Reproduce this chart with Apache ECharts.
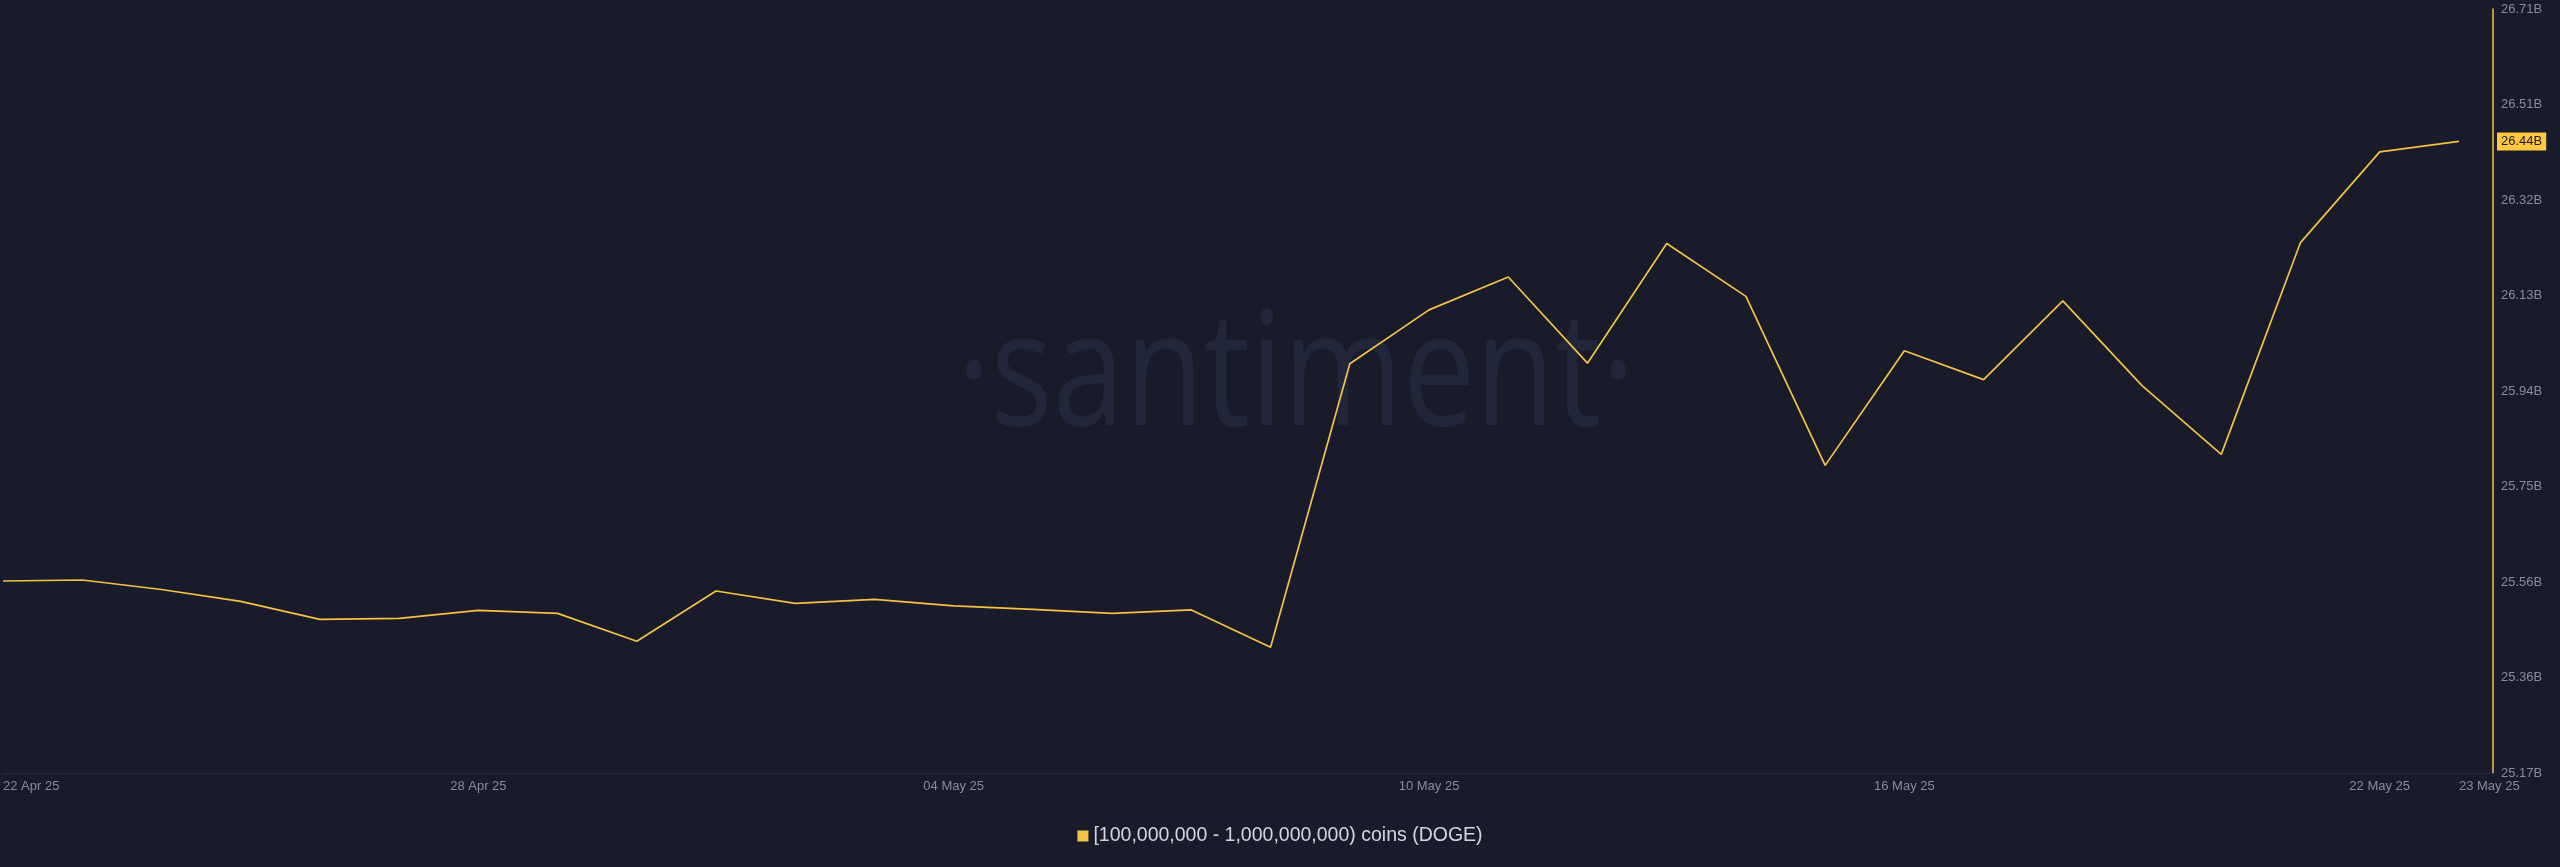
<!DOCTYPE html>
<html>
<head>
<meta charset="utf-8">
<script src="https://cdn.jsdelivr.net/npm/echarts@6/dist/echarts.min.js"></script>
<style>
  html, body { margin: 0; padding: 0; background: #191b2a; }
  #chart { width: 2560px; height: 867px; }
</style>
</head>
<body>
<div id="chart"></div>
<script>
// ---- data ----
const dates = [
  '2025-04-22','2025-04-23','2025-04-24','2025-04-25','2025-04-26','2025-04-27','2025-04-28','2025-04-29',
  '2025-04-30','2025-05-01','2025-05-02','2025-05-03','2025-05-04','2025-05-05','2025-05-06','2025-05-07',
  '2025-05-08','2025-05-09','2025-05-10','2025-05-11','2025-05-12','2025-05-13','2025-05-14','2025-05-15',
  '2025-05-16','2025-05-17','2025-05-18','2025-05-19','2025-05-20','2025-05-21','2025-05-22','2025-05-23'
];
// billions of DOGE held by addresses with [100M - 1B) coins
const holdings = [
  25.558, 25.560, 25.541, 25.517, 25.481, 25.483, 25.499, 25.493,
  25.437, 25.538, 25.513, 25.521, 25.508, 25.501, 25.493, 25.500,
  25.425, 25.994, 26.102, 26.168, 25.995, 26.235, 26.129, 25.790,
  26.020, 25.962, 26.120, 25.950, 25.812, 26.237, 26.419, 26.440
];
const xTickDates = ['2025-04-22','2025-04-28','2025-05-04','2025-05-10','2025-05-16','2025-05-22','2025-05-23'];
const yTickValues = [25.1728, 25.3644, 25.556, 25.7476, 25.9392, 26.1308, 26.3224, 26.514, 26.7056];
const seriesName = '[100,000,000 - 1,000,000,000) coins (DOGE)';
const monthNames = ['Jan','Feb','Mar','Apr','May','Jun','Jul','Aug','Sep','Oct','Nov','Dec'];

function toTs(s) {
  const p = s.split('-').map(Number);
  return new Date(p[0], p[1] - 1, p[2]).getTime();
}
const DAY = 86400000;
const seriesData = dates.map((d, i) => [toTs(d), holdings[i]]);
const lastValue = holdings[holdings.length - 1];

const chart = echarts.init(document.getElementById('chart'), null, { renderer: 'canvas' });

const YELLOW = '#f4c244';
const LABEL = '#868ba0';

chart.setOption({
  backgroundColor: '#191b2a',
  animation: false,
  graphic: [{
    type: 'text',
    x: 1296,
    y: 379,
    scaleX: 0.81,
    silent: true,
    z: -10,
    style: {
      text: '·santiment·',
      font: '160px "Open Sans"',
      fill: '#21263b',
      align: 'center',
      verticalAlign: 'middle'
    }
  }],
  grid: { left: 0, right: 67, top: 9, bottom: 94, containLabel: false },
  legend: {
    data: [seriesName],
    top: 826,
    left: 'center',
    padding: 0,
    icon: 'rect',
    itemWidth: 11,
    itemHeight: 11,
    textStyle: { color: '#d2d5df', fontSize: 19.5, fontFamily: 'Liberation Sans, Arial, sans-serif' }
  },
  xAxis: {
    type: 'value',
    min: toTs(dates[0]),
    max: toTs(dates[dates.length - 1]) + 0.43 * DAY,
    axisLine: { show: true, lineStyle: { color: '#272b40', width: 1 } },
    axisTick: { show: false },
    splitLine: { show: false },
    axisLabel: {
      customValues: xTickDates.map(toTs),
      color: LABEL,
      fontSize: 13,
      fontFamily: 'Liberation Sans, Arial, sans-serif',
      margin: 7,
      alignMinLabel: 'left',
      alignMaxLabel: 'left',
      hideOverlap: false,
      formatter: function (v) {
        const d = new Date(v);
        const dd = String(d.getDate()).padStart(2, '0');
        const yy = String(d.getFullYear()).slice(2);
        return dd + ' ' + monthNames[d.getMonth()] + ' ' + yy;
      }
    }
  },
  yAxis: {
    type: 'value',
    position: 'right',
    min: yTickValues[0],
    max: yTickValues[yTickValues.length - 1],
    axisLine: { show: true, lineStyle: { color: YELLOW, width: 1.5 } },
    axisTick: { show: false },
    splitLine: { show: false },
    axisLabel: {
      customValues: yTickValues,
      color: LABEL,
      fontSize: 13,
      fontFamily: 'Liberation Sans, Arial, sans-serif',
      margin: 8,
      formatter: function (v) { return v.toFixed(2) + 'B'; }
    }
  },
  series: [{
    name: seriesName,
    type: 'line',
    data: seriesData,
    showSymbol: false,
    symbol: 'none',
    itemStyle: { color: YELLOW },
    lineStyle: { color: YELLOW, width: 1.7 },
    markLine: {
      silent: true,
      symbol: 'none',
      animation: false,
      lineStyle: { color: 'rgba(0,0,0,0)', width: 0, type: 'solid' },
      label: {
        show: true,
        position: 'end',
        distance: 4,
        formatter: lastValue.toFixed(2) + 'B',
        color: '#1a1b2a',
        backgroundColor: '#ffc840',
        fontSize: 13,
        fontFamily: 'Liberation Sans, Arial, sans-serif',
        padding: [3, 4, 2, 4]
      },
      data: [{ yAxis: lastValue }]
    }
  }]
});
</script>
</body>
</html>
